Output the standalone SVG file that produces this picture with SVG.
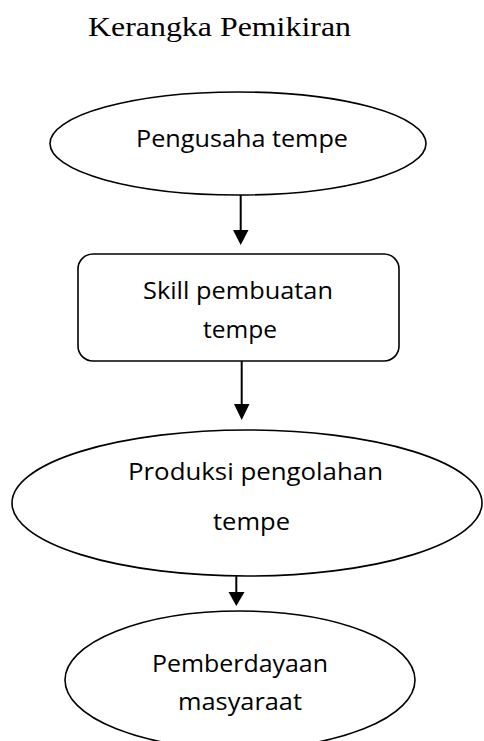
<svg xmlns="http://www.w3.org/2000/svg" width="484" height="741" viewBox="0 0 484 741">
<style>
.node{fill:#fff;stroke:#000;stroke-width:1.6}
.lbl{font-family:"Open Sans","Noto Sans","Liberation Sans",sans-serif;font-size:23px;fill:#000}
.title{font-family:"Liberation Serif","Times New Roman",serif;font-size:27px;fill:#000}
.edge{stroke:#000;stroke-width:2;fill:none}
</style>
<rect width="484" height="741" fill="#fff"/>
<text class="title" x="88" y="36" textLength="263" lengthAdjust="spacingAndGlyphs">Kerangka Pemikiran</text>
<g id="connectors">
<line class="edge" x1="240.7" y1="195" x2="240.7" y2="230"/>
<path d="M233,230 L248.5,230 L240.7,245 Z" fill="#000"/>
<line class="edge" x1="241.7" y1="361" x2="241.7" y2="404"/>
<path d="M234,404 L249.5,404 L241.7,420 Z" fill="#000"/>
<line class="edge" x1="236.3" y1="576" x2="236.3" y2="592"/>
<path d="M228.5,592 L244.5,592 L236.3,606 Z" fill="#000"/>
</g>
<g id="node1">
<ellipse class="node" cx="238" cy="143.5" rx="188" ry="51.5"/>
<text class="lbl" x="136" y="147" textLength="212" lengthAdjust="spacingAndGlyphs">Pengusaha tempe</text>
</g>
<g id="node2">
<rect class="node" x="78" y="254" width="321" height="107" rx="15" ry="15"/>
<text class="lbl" x="143" y="299" textLength="190" lengthAdjust="spacingAndGlyphs">Skill pembuatan</text>
<text class="lbl" x="203" y="338" textLength="74" lengthAdjust="spacingAndGlyphs">tempe</text>
</g>
<g id="node3">
<ellipse class="node" cx="247" cy="503" rx="235" ry="73"/>
<text class="lbl" x="128" y="480" textLength="255" lengthAdjust="spacingAndGlyphs">Produksi pengolahan</text>
<text class="lbl" x="213" y="530" textLength="77" lengthAdjust="spacingAndGlyphs">tempe</text>
</g>
<g id="node4">
<ellipse class="node" cx="240" cy="680" rx="175" ry="69"/>
<text class="lbl" x="152" y="672" textLength="176" lengthAdjust="spacingAndGlyphs">Pemberdayaan</text>
<text class="lbl" x="178" y="710" textLength="124" lengthAdjust="spacingAndGlyphs">masyaraat</text>
</g>
</svg>
